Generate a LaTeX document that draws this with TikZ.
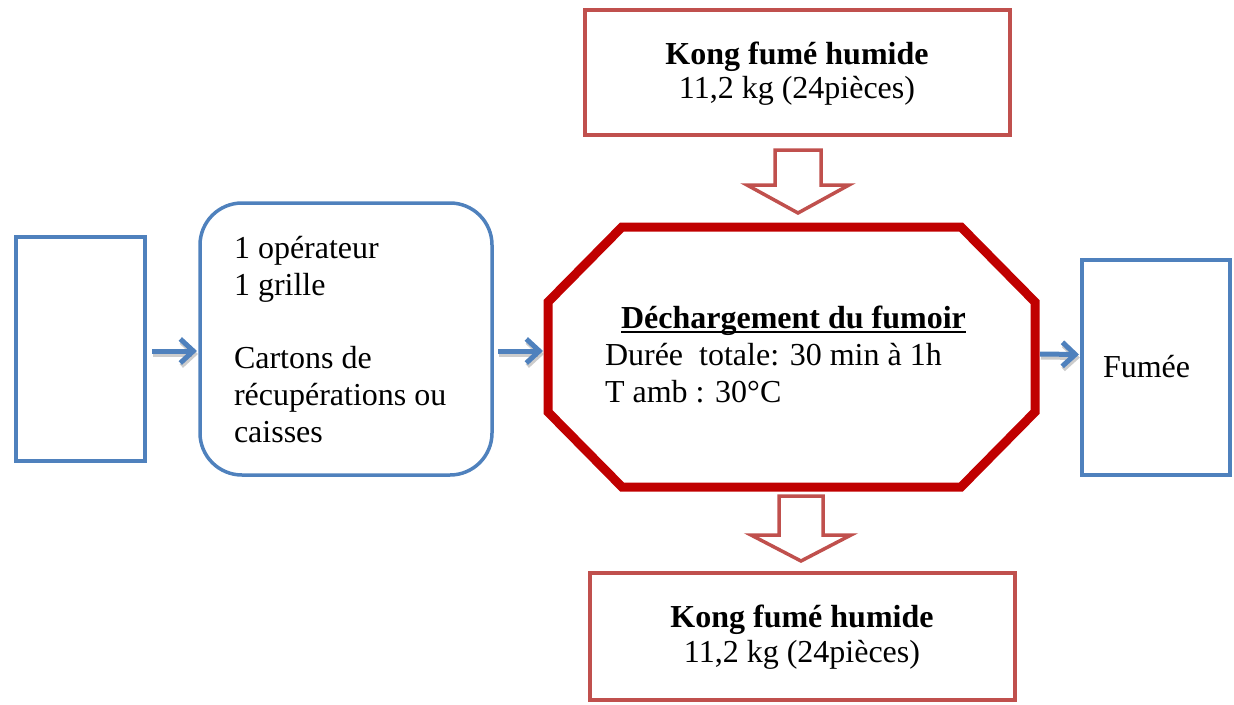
\documentclass[tikz,border=0pt]{standalone}
\usepackage{fontspec}
\setmainfont{Liberation Serif}
\usetikzlibrary{arrows.meta,calc}
\definecolor{boxblue}{HTML}{4F81BD}
\definecolor{boxred}{HTML}{C0504D}
\definecolor{octred}{HTML}{C00000}
\begin{document}
\begin{tikzpicture}[x=1pt,y=-1pt,
  every node/.style={font=\fontsize{32}{37}\selectfont, inner sep=0pt, outer sep=0pt},
  bluebox/.style={draw=boxblue, line width=3.5pt},
  redbox/.style={draw=boxred, line width=3.5pt},
  octline/.style={draw=octred, line width=9pt, line join=miter},
  txt/.style={anchor=base west},
  ctxt/.style={anchor=base},
  flow/.style={draw=boxblue, line width=5pt, -{Straight Barb[length=13pt,width=24pt]}},
  flowshadow/.style={flow, draw=black!40, opacity=0.5, transform canvas={xshift=1pt,yshift=-3pt}},
  blockarrow/.style={draw=boxred, line width=3.5pt, fill=white, line join=miter}
]
\useasboundingbox (0,0) rectangle (1234,704);

% boxes
\node[bluebox, minimum width=129, minimum height=224] (src) at (80.5,349) {};
\node[bluebox, rounded corners=42pt, minimum width=292, minimum height=272] (res) at (346,339) {};
\node[bluebox, minimum width=148, minimum height=215] (out) at (1156,367.5) {};
\node[redbox, minimum width=425, minimum height=125] (inbox) at (797.5,72.5) {};
\node[redbox, minimum width=425, minimum height=127] (outbox) at (802.5,636.5) {};

% process: octagon drawn on the frame of an empty node
\node[minimum width=487, minimum height=260] (oct) at (791.5,357) {};
\draw[octline] ($(oct.north west)+(74,0)$) -- ($(oct.north east)+(-74,0)$)
   -- ($(oct.north east)+(0,75)$) -- ($(oct.south east)+(0,-75)$)
   -- ($(oct.south east)+(-74,0)$) -- ($(oct.south west)+(74,0)$)
   -- ($(oct.south west)+(0,-75)$) -- ($(oct.north west)+(0,75)$) -- cycle;

% resources
\node[txt] (r1) at (234,258) {1 opérateur};
\node[txt] (r2) at (234,295) {1 grille};
\node[txt] (r3) at (234,368) {Cartons de};
\node[txt] (r4) at (234,405) {récupérations ou};
\node[txt] (r5) at (234,442) {caisses};

% process text
\node[ctxt, font=\fontsize{32}{37}\selectfont\bfseries] (title) at (793.5,328) {Déchargement du fumoir};
\draw[line width=2.5pt] ($(title.base west)+(0,4)$) -- ($(title.base east)+(0,4)$);
\node[txt] (d1) at (605,365) {Durée\ \ totale: 30 min à 1h};
\node[txt] (d2) at (605,402) {T amb : 30°C};

\node[txt] (fm) at (1103,377) {Fumée};

% input / output product
\node[ctxt, font=\fontsize{32}{37}\selectfont\bfseries] (in1) at (797,64) {Kong fumé humide};
\node[ctxt] (in2) at (797,98) {11,2 kg (24pièces)};
\node[ctxt, font=\fontsize{32}{37}\selectfont\bfseries] (out1) at (802,627) {Kong fumé humide};
\node[ctxt] (out2) at (802,662) {11,2 kg (24pièces)};

% block arrows
\coordinate (da) at (798,150);
\draw[blockarrow] (da) ++(-23,0) -- ++(46,0) -- ++(0,35) -- ++(28,0) -- (798,213)
   -- (747,185) -- (775,185) -- cycle;
\coordinate (db) at (801,496);
\draw[blockarrow] (db) ++(-22,0) -- ++(44,0) -- ++(0,39) -- ++(28,0) -- (801,561)
   -- (751,535) -- (779,535) -- cycle;

% flow arrows
\draw[flowshadow] ($(src.east)+(7,2)$) -- ($(res.west)+(-3,12)$);
\draw[flow] ($(src.east)+(7,2)$) -- ($(res.west)+(-3,12)$);
\draw[flowshadow] ($(res.east)+(6,12)$) -- ($(oct.west)+(-5,-6)$);
\draw[flow] ($(res.east)+(6,12)$) -- ($(oct.west)+(-5,-6)$);
\draw[flowshadow] ($(oct.east)+(5,-3)$) -- ($(out.west)+(-3,-13)$);
\draw[flow] ($(oct.east)+(5,-3)$) -- ($(out.west)+(-3,-13)$);
\end{tikzpicture}
\end{document}
